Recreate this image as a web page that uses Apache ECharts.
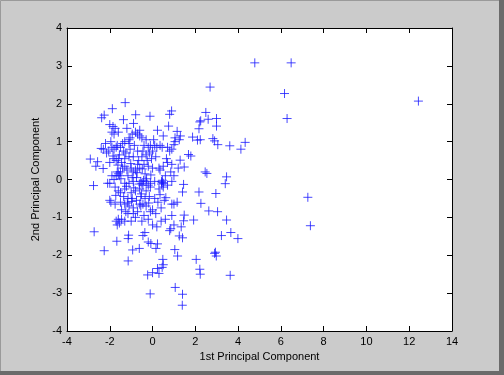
<!DOCTYPE html>
<html><head><meta charset="utf-8">
<script src="https://cdn.jsdelivr.net/npm/echarts@6/dist/echarts.min.js"></script>
<style>html,body{margin:0;padding:0;background:#cbcbcb}#c{width:504px;height:375px}</style>
</head><body><div id="c"></div>
<script>
const xTicks = [-4,-2,0,2,4,6,8,10,12,14];
const yTicks = [-4,-3,-2,-1,0,1,2,3,4];
const pc1 = [
4.78,6.48,6.17,6.29,12.43,7.26,7.38,2.69,4.33,4.13,3.61,3.46,3.40,2.96,3.46,3.66,3.99,3.22,3.63,2.94,2.98,2.90,2.04,2.21,2.23,3.04,2.63,2.26,2.17,2.46,2.54,2.82,2.90,3.05,2.99,2.99,2.60,2.49,2.21,2.25,2.17,2.23,2.10,1.87,1.79,1.68,1.48,1.29,1.45,1.40,1.92,1.48,1.45,1.34,1.40,1.25,1.17,1.04,1.06,1.40,1.39,
-0.11,-0.23,0.00,0.23,0.30,0.48,0.50,0.45,0.23,0.16,-0.08,-0.20,-0.36,-0.45,-0.62,-0.93,-1.14,-2.26,-2.73,-1.67,-1.14,-1.12,
-1.28,-1.88,-2.38,-2.26,-1.36,-0.79,-0.12,-0.89,-2.00,-1.85,-1.75,-1.90,-1.80,-1.60,-1.20,-1.05,-1.10,-0.95,-0.80,-0.70,-0.60,-0.50,-1.40,-1.30,-1.10,-2.20,-2.40,-2.30,-2.15,-1.90,-1.80,-1.70,-1.65,-1.50,-0.40,-0.20,-0.10,0.00,-0.15,0.10,0.20,0.23,0.50,0.75,0.89,0.80,1.15,1.05,1.05,1.00,0.90,0.80,0.70,0.45,0.35,-0.30,-0.50,-0.70,-0.90,-1.10,-1.30,-1.60,-1.80,-1.70,-2.00,
-2.91,-2.57,-2.65,-2.31,-2.76,-2.10,-2.00,-1.80,-1.70,-1.60,-1.50,-1.65,-1.55,-1.40,-1.30,-1.20,-1.00,-0.90,-0.80,-0.70,-0.60,-0.40,-0.20,0.00,0.30,0.35,0.50,0.70,0.90,0.85,1.00,1.20,
-1.30,-1.10,-0.90,-0.50,-0.45,-0.30,-0.10,-0.20,0.10,0.45,0.50,0.42,0.70,0.90,-1.60,-1.50,-1.30,-1.00,-0.80,-0.60,-0.30,-0.10,0.30,0.50,
-2.00,-1.95,-1.75,-1.50,-1.30,-1.10,-0.90,-0.60,-0.55,-0.45,-0.30,0.00,-0.10,0.40,0.55,0.90,1.00,1.15,-1.70,-1.60,-1.45,-1.30,-1.15,-1.00,-0.90,-0.70,-0.50,-0.20,0.00,0.20,0.40,0.60,0.80,0.85,0.90,1.00,-1.65,-1.55,
-1.90,-1.75,-1.45,-1.25,-1.05,-0.85,-0.65,-0.45,-0.35,-0.25,-0.05,0.15,-1.15,-0.95,-0.75,-0.55,-1.35,-1.15,-0.95,-0.75,-0.55,-0.35,-0.15,0.10,0.25,-1.45,-1.25,-0.80,-0.40,0.15,0.35,0.60,0.65,-1.55,-1.35,-2.05,-1.95,-0.30,0.05,-0.60,1.30,1.25,
-1.85,-1.62,-1.48,-1.02,-0.72,-0.48,-0.28,-1.22,-0.88,-0.62,-0.42,-0.08,0.42,0.46,-1.72,-1.18,-0.98,-0.52,-0.18,0.62
];
const pc2 = [
3.08,3.08,2.27,1.61,2.07,-0.47,-1.22,2.44,0.98,0.80,0.89,0.07,-0.11,-0.37,-1.07,-1.40,-1.56,-1.48,-2.53,-1.92,-2.02,-1.95,-2.11,-2.37,-2.50,-0.85,-0.83,-0.63,-0.33,0.20,0.16,1.08,1.02,0.92,1.41,1.61,1.59,1.77,1.52,1.55,1.34,1.05,1.04,1.12,0.62,0.66,0.33,0.51,-0.13,-0.33,-1.07,-0.94,-1.09,-1.25,-1.54,-1.49,-2.02,-1.85,-2.85,-3.03,-3.32,
-3.02,-2.52,-2.46,-2.35,-2.48,-2.11,-2.25,-2.32,-1.70,-1.82,-1.69,-1.65,-1.40,-1.48,-1.82,-1.86,-2.15,-1.88,-1.38,-1.63,-1.56,-1.47,
2.03,1.87,1.63,1.70,1.58,1.71,1.67,1.48,1.45,1.40,1.35,1.25,1.20,1.25,1.35,1.10,1.05,1.20,1.25,1.20,1.15,1.10,0.95,1.00,0.95,0.95,0.82,0.80,0.70,0.85,0.80,0.85,0.90,0.85,0.90,0.85,0.90,0.75,0.70,0.90,0.85,1.30,1.15,1.41,1.81,1.72,1.27,1.10,1.00,0.92,0.80,0.75,0.85,0.85,0.90,0.65,0.60,0.75,0.60,0.60,0.55,0.55,0.55,0.50,0.45,
0.54,0.47,0.35,0.29,-0.16,-0.10,-0.10,0.00,0.10,0.15,0.20,0.20,0.10,0.30,0.35,0.25,0.30,0.20,0.25,0.40,0.30,0.40,0.35,0.30,0.30,0.25,0.35,0.45,0.40,0.20,0.10,0.30,
-0.10,-0.10,-0.05,-0.10,-0.15,-0.05,-0.10,-0.15,-0.05,-0.08,-0.10,-0.05,-0.15,-0.05,-0.30,-0.35,-0.25,-0.35,-0.30,-0.25,-0.30,-0.20,-0.25,-0.20,
-0.55,-0.60,-0.65,-0.60,-0.65,-0.70,-0.75,-0.65,-0.70,-0.65,-0.70,-0.80,-0.85,-0.75,-0.55,-0.65,-0.65,-0.60,-1.10,-1.05,-1.05,-1.10,-0.90,-1.10,-0.90,-0.85,-1.10,-1.05,-1.20,-1.25,-1.10,-1.05,-1.35,-1.30,-0.95,-1.20,-1.20,-1.15,
0.10,-0.20,0.45,0.70,0.80,0.90,0.50,0.75,0.15,0.50,0.55,0.60,0.10,0.05,0.05,-0.05,-0.45,-0.50,-0.50,-0.55,-0.45,-0.50,-0.45,-0.50,-0.60,-0.80,-0.85,-1.00,-0.95,-0.90,-0.40,0.10,0.55,0.65,0.75,0.75,1.00,1.05,1.05,1.30,1.15,1.05,
0.62,0.38,0.02,0.42,0.18,0.28,0.02,-0.18,-0.22,-0.12,-0.02,0.12,-0.12,-0.02,-0.42,-0.62,-0.58,-0.38,-0.62,-0.48
];
const xLabel = '1st Principal Component';
const yLabel = '2nd Principal Component';

const data = pc1.map((v,i)=>[v,pc2[i]]);
const plus = 'path://M0,5L10,5M5,0L5,10';
const font = 'Liberation Sans, Arial, sans-serif';
const ax = (pos, show) => ({
  type:'value', position:pos,
  axisLine:{show:true,onZero:false,lineStyle:{color:'#000',width:1}},
  axisTick:{show:true,inside:true,length:5,lineStyle:{color:'#000'}},
  splitLine:{show:false},
  axisLabel:{show:show,color:'#000',fontFamily:font,fontSize:11}
});
const xb = Object.assign(ax('bottom',true),{min:-4,max:14,interval:2,
  axisLabel:{color:'#000',fontFamily:font,fontSize:11,margin:5,formatter:v=>xTicks.includes(v)?String(v):''},
  name:xLabel,nameLocation:'middle',nameGap:20,nameTextStyle:{color:'#000',fontFamily:font,fontSize:11}});
const xt = Object.assign(ax('top',false),{min:-4,max:14,interval:2});
const yl = Object.assign(ax('left',true),{min:-4,max:4,interval:1,
  axisLabel:{color:'#000',fontFamily:font,fontSize:11,margin:5,formatter:v=>yTicks.includes(v)?String(v):''},
  name:yLabel,nameLocation:'middle',nameGap:19,nameTextStyle:{color:'#000',fontFamily:font,fontSize:11}});
const yr = Object.assign(ax('right',false),{min:-4,max:4,interval:1});

const chart = echarts.init(document.getElementById('c'),null,{renderer:'canvas'});
chart.setOption({
  backgroundColor:'#cbcbcb',
  animation:false,
  graphic:[
    {type:'rect',shape:{x:0.5,y:0.5,width:503,height:374},style:{fill:'none',stroke:'#9a9a9a',lineWidth:1},z:-1},
    {type:'rect',shape:{x:499,y:0,width:5,height:375},style:{fill:'#6b6b6b'}},
    {type:'rect',shape:{x:0,y:371,width:504,height:4},style:{fill:'#6b6b6b'}}
  ],
  grid:{left:67,top:28,width:385,height:303,show:true,backgroundColor:'#fff',borderWidth:0},
  xAxis:[xb,xt],
  yAxis:[yl,yr],
  series:[{type:'scatter',data:data,symbol:plus,symbolSize:9,
    itemStyle:{color:'none',borderColor:'#1a1aff',borderWidth:1},silent:true}]
});
</script></body></html>
